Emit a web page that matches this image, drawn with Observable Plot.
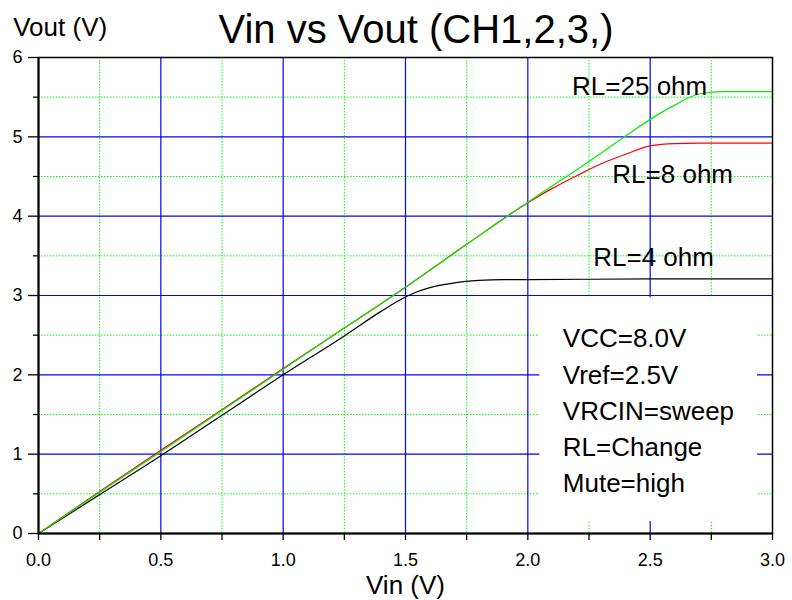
<!DOCTYPE html>
<html><head><meta charset="utf-8">
<script src="https://cdn.jsdelivr.net/npm/d3@7"></script>
<script src="https://cdn.jsdelivr.net/npm/@observablehq/plot@0.6"></script>
<style>body{margin:0;background:#fff;}</style>
</head><body><div id="chart"></div>
<script>
// Data
const vin4  = [0, 0.25, 0.5, 0.75, 1.0, 1.25, 1.4, 1.5, 1.55, 1.6, 1.7, 1.8, 1.9, 2.0, 2.5, 3.0];
const vout4 = [0, 0.49, 0.98, 1.49, 2.0, 2.49, 2.80, 2.98, 3.05, 3.10, 3.16, 3.19, 3.20, 3.20, 3.21, 3.21];
const vin8  = [0, 0.25, 0.5, 0.75, 1.0, 1.25, 1.5, 1.75, 2.0, 2.1, 2.2, 2.3, 2.4, 2.5, 2.6, 2.7, 3.0];
const vout8 = [0, 0.53, 1.05, 1.56, 2.08, 2.59, 3.105, 3.645, 4.17, 4.35, 4.51, 4.66, 4.78, 4.885, 4.915, 4.92, 4.92];
const vin25  = [0, 0.25, 0.5, 0.75, 1.0, 1.25, 1.5, 1.75, 2.0, 2.25, 2.4, 2.5, 2.6, 2.7, 2.8, 3.0];
const vout25 = [0, 0.52, 1.03, 1.55, 2.07, 2.59, 3.105, 3.645, 4.175, 4.69, 5.01, 5.22, 5.40, 5.54, 5.57, 5.57];
const seriesNames = ["RL=4 ohm", "RL=8 ohm", "RL=25 ohm"];
const notes = ["VCC=8.0V", "Vref=2.5V", "VRCIN=sweep", "RL=Change", "Mute=high"];
const xTicks = [0, 0.5, 1.0, 1.5, 2.0, 2.5, 3.0];
const xMinor = [0.25, 0.75, 1.25, 1.75, 2.25, 2.75];
const yTicks = [0, 1, 2, 3, 4, 5, 6];
const yMinor = [0.5, 1.5, 2.5, 3.5, 4.5, 5.5];
const xGrid = [0.5, 1.0, 1.5, 2.0, 2.5];
const yGrid = [1, 2, 3, 4, 5];
const title = "Vin vs Vout (CH1,2,3,)";
const xLabel = "Vin (V)";
const yLabel = "Vout (V)";

const toRows = (xs, ys, s) => xs.map((x, i) => ({vin: x, vout: ys[i], series: s}));
const rows4 = toRows(vin4, vout4, seriesNames[0]);
const rows8 = toRows(vin8, vout8, seriesNames[1]);
const rows25 = toRows(vin25, vout25, seriesNames[2]);

const chart = Plot.plot({
  width: 792, height: 600,
  marginLeft: 38, marginRight: 20, marginTop: 57, marginBottom: 67,
  style: {fontFamily: "'Liberation Sans', Arial, sans-serif", fontSize: "18px", background: "#fff", color: "#000"},
  x: {domain: [0, 3]},
  y: {domain: [0, 6]},
  marks: [
    Plot.ruleX(xMinor, {stroke: "#00ff00", strokeDasharray: "1.5,1.5"}),
    Plot.ruleY(yMinor, {stroke: "#00ff00", strokeDasharray: "1.5,1.5"}),
    Plot.ruleX(xGrid, {stroke: "#0000ff", strokeWidth: 1.2}),
    Plot.ruleY(yGrid, {stroke: "#0000ff", strokeWidth: 1.2}),
    Plot.rect([0], {x1: 2.049, x2: 2.939, y1: 0.15, y2: 2.97, fill: "#fff"}),
    Plot.line(rows4, {x: "vin", y: "vout", stroke: "#000", strokeWidth: 1.2, curve: "monotone-x"}),
    Plot.line(rows8, {x: "vin", y: "vout", stroke: "#ff0000", strokeWidth: 1.2, curve: "monotone-x"}),
    Plot.line(rows25, {x: "vin", y: "vout", stroke: "#00ee00", strokeWidth: 1.2, curve: "monotone-x"}),
    Plot.frame({stroke: "#000", strokeWidth: 1.5}),
    Plot.ruleX([0], {stroke: "#000", strokeWidth: 2}),
    Plot.ruleY([0], {stroke: "#000", strokeWidth: 2}),
    Plot.axisY(yTicks, {tickSize: 10, tickPadding: 6, fontSize: 18, tickFormat: d3.format("d"), label: null, strokeWidth: 1.3}),
    Plot.axisY(yMinor, {tickSize: 5, tickFormat: () => "", label: null, strokeWidth: 1.3}),
    Plot.axisX(xTicks, {tickSize: 7, tickPadding: 13, fontSize: 18, tickFormat: d3.format(".1f"), label: null, strokeWidth: 1.3}),
    Plot.axisX(xMinor, {tickSize: 7, tickFormat: () => "", label: null, strokeWidth: 1.3}),
    Plot.text([seriesNames[2]], {x: 2.457, y: 5.63, fontSize: 26, fill: "#000"}),
    Plot.text([seriesNames[1]], {x: 2.592, y: 4.524, fontSize: 26, fill: "#000"}),
    Plot.text([seriesNames[0]], {x: 2.514, y: 3.483, fontSize: 26, fill: "#000"}),
    Plot.text([notes.join("\n")], {x: 2.143, y: 2.672, textAnchor: "start", lineAnchor: "top", lineHeight: 1.396, fontSize: 26, fill: "#000"}),
    Plot.text([title], {frameAnchor: "top", lineAnchor: "middle", dx: 10.5, dy: -27.8, fontSize: 40, fill: "#000"}),
    Plot.text([yLabel], {frameAnchor: "top-left", lineAnchor: "middle", dx: -25.3, dy: -30, textAnchor: "start", fontSize: 26, fill: "#000"}),
    Plot.text([xLabel], {frameAnchor: "bottom", lineAnchor: "middle", dy: 51.7, fontSize: 26, fill: "#000"})
  ]
});
document.getElementById("chart").appendChild(chart);
</script>
</body></html>
